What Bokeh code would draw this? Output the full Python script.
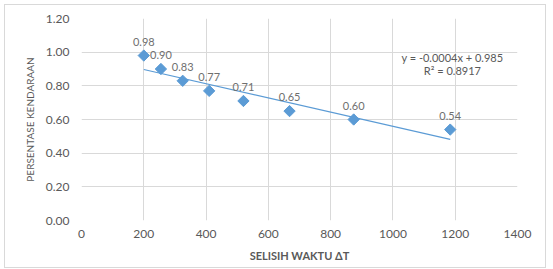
import numpy as np
from bokeh.plotting import figure
from bokeh.models import ColumnDataSource, Label, FixedTicker, PrintfTickFormatter
from bokeh.embed import file_html
from bokeh.resources import INLINE

# Data
selisih_waktu = [200, 255, 325, 410, 520, 668, 874, 1184]
persentase = [0.98, 0.90, 0.83, 0.77, 0.71, 0.65, 0.60, 0.54]
point_labels = ["0.98", "0.90", "0.83", "0.77", "0.71", "0.65", "0.60", "0.54"]
x_ticks = [0, 200, 400, 600, 800, 1000, 1200, 1400]
y_ticks = [0.0, 0.2, 0.4, 0.6, 0.8, 1.0, 1.2]
equation_text = "y = -0.0004x + 0.985"
r2_text = "R² = 0.8917"

FONT = "Lato"
GRAY = "#595959"
LABEL_GRAY = "#6f6f6f"
BLUE = "#5b9bd5"
GRID = "#d9d9d9"

p = figure(width=542, height=264, output_backend="svg", toolbar_location=None,
           x_range=(0, 1400), y_range=(0, 1.2),
           min_border_left=76, min_border_right=30, min_border_top=13, min_border_bottom=49,
           styles={"margin-left": "4px", "margin-top": "4px", "border": "1px solid #d9d9d9"})
p.outline_line_color = None
p.background_fill_color = "white"
p.border_fill_color = "white"

# grids
p.xgrid.ticker = FixedTicker(ticks=x_ticks)
p.ygrid.ticker = FixedTicker(ticks=y_ticks)
p.xgrid.grid_line_color = GRID
p.ygrid.grid_line_color = GRID

# axes
p.xaxis.ticker = FixedTicker(ticks=x_ticks)
p.yaxis.ticker = FixedTicker(ticks=y_ticks)
p.yaxis.formatter = PrintfTickFormatter(format="%.2f")
for ax in (p.xaxis[0], p.yaxis[0]):
    ax.axis_line_color = None
    ax.major_tick_line_color = None
    ax.minor_tick_line_color = None
    ax.major_tick_out = 0
    ax.major_tick_in = 0
    ax.major_label_text_font = FONT
    ax.major_label_text_font_size = "12px"
    ax.major_label_text_color = GRAY
    ax.axis_label_text_font = FONT
    ax.axis_label_text_color = GRAY
    ax.axis_label_text_font_style = "normal"
p.xaxis.major_label_standoff = 9
p.yaxis.major_label_standoff = 12
p.xaxis.axis_label = "SELISIH WAKTU ΔT"
p.xaxis.axis_label_text_font_size = "11px"
p.xaxis.axis_label_text_font_style = "bold"
p.xaxis.axis_label_standoff = 8
p.yaxis.axis_label = "PERSENTASE KENDARAAN"
p.yaxis.axis_label_text_font_size = "10px"
p.yaxis.axis_label_standoff = 7

# trend line (least squares fit of the data)
slope, intercept = np.polyfit(selisih_waktu, persentase, 1)
tx = [min(selisih_waktu), max(selisih_waktu)]
ty = [slope * v + intercept for v in tx]
p.line(tx, ty, line_color=BLUE, line_width=1.2)

src = ColumnDataSource(dict(x=selisih_waktu, y=persentase, lab=point_labels))
p.scatter("x", "y", source=src, marker="square", angle=np.pi / 4, size=8,
          fill_color=BLUE, line_color=BLUE)
p.text("x", "y", text="lab", source=src, y_offset=-10, text_align="center",
       text_baseline="bottom", text_font_size="11px", text_color=LABEL_GRAY,
       text_font={"value": FONT})

p.add_layout(Label(x=1191, y=0.968, text=equation_text, text_align="center",
                   text_baseline="middle", text_font=FONT, text_font_size="11px",
                   text_color=GRAY))
p.add_layout(Label(x=1191, y=0.891, text=r2_text, text_align="center",
                   text_baseline="middle", text_font=FONT, text_font_size="11px",
                   text_color=GRAY))

open("out.html", "w").write(file_html(p, INLINE))
